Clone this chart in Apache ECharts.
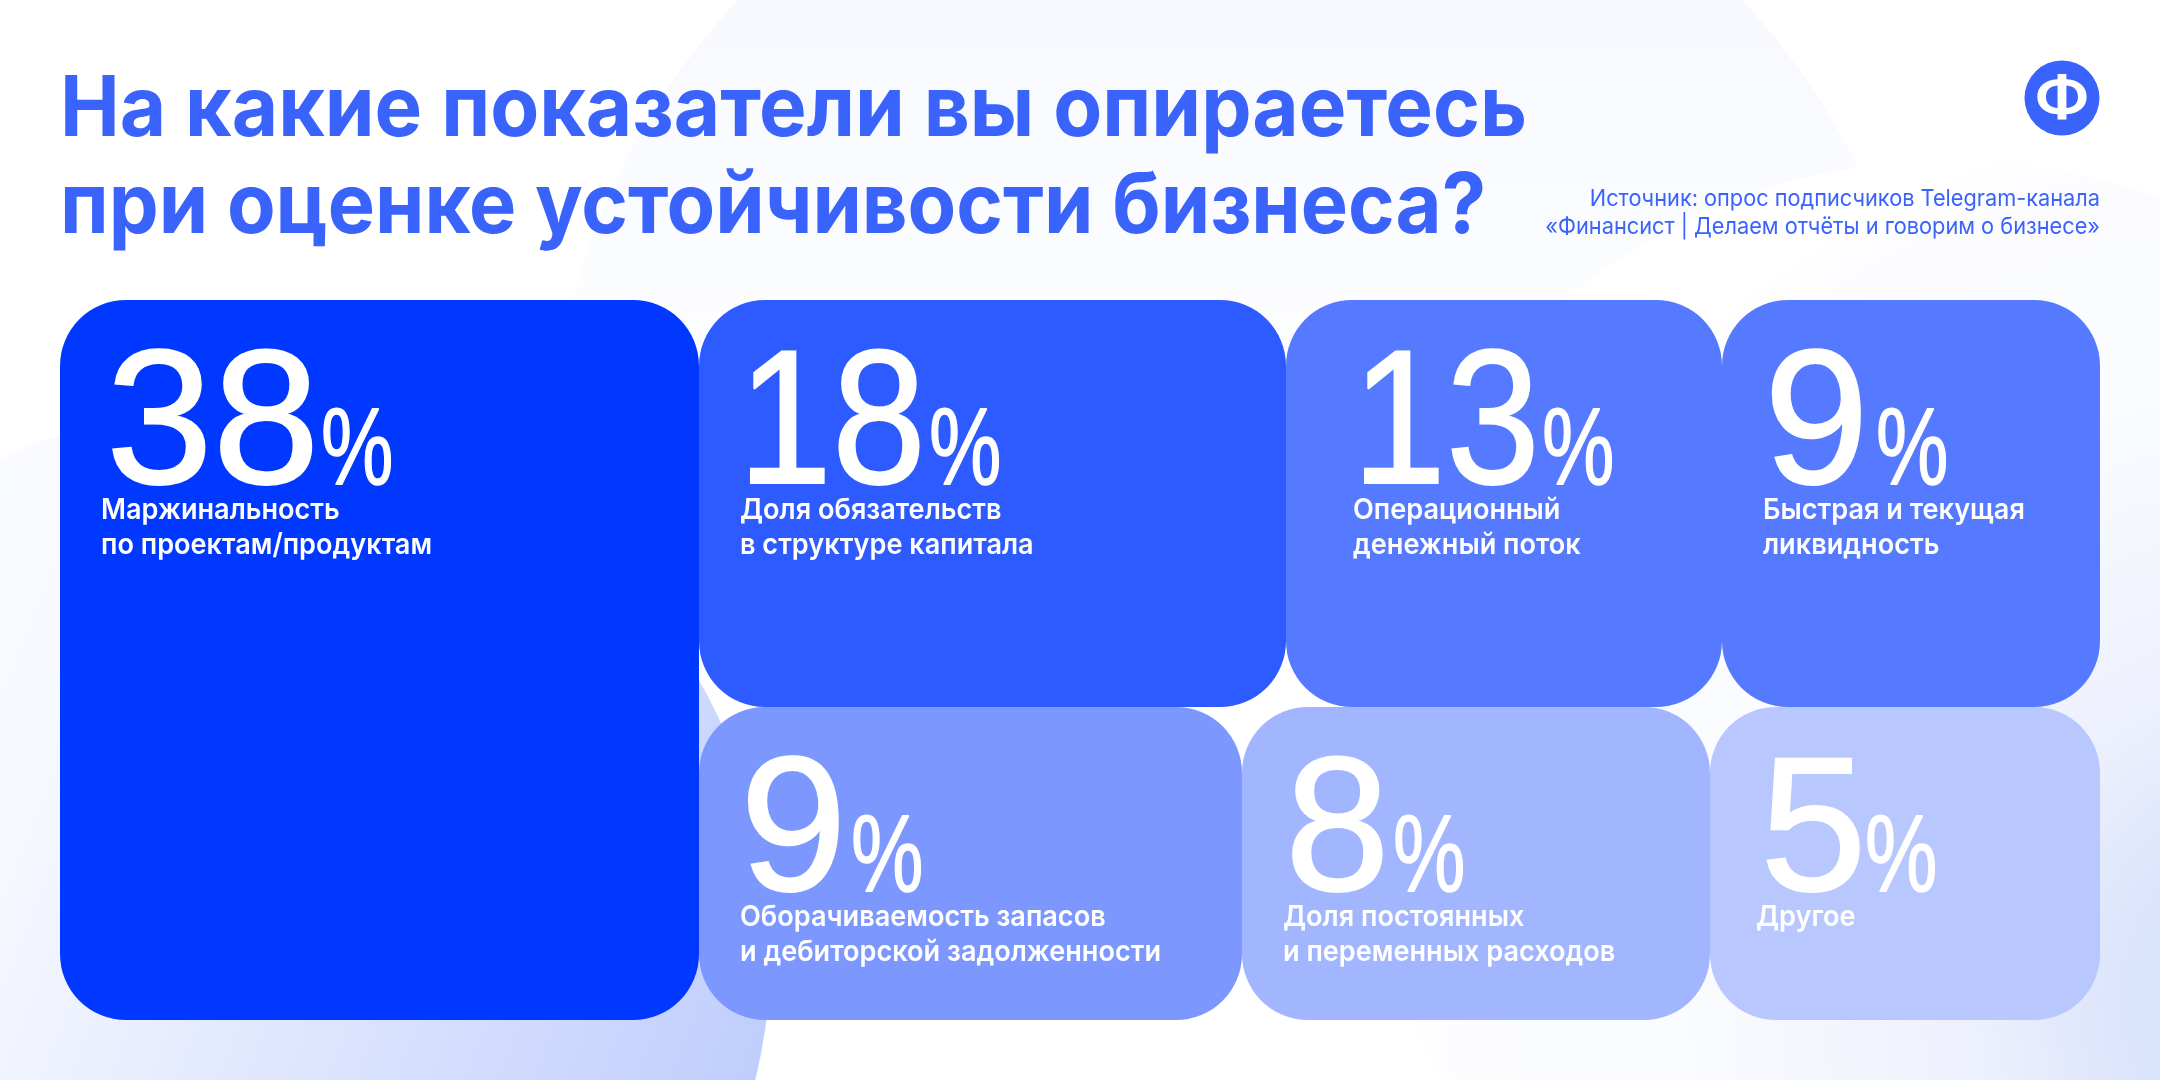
<!DOCTYPE html>
<html><head><meta charset="utf-8">
<style>html,body{margin:0;padding:0;background:#fff}#c{width:2160px;height:1080px}</style>
<script src="https://cdn.jsdelivr.net/npm/echarts@6/dist/echarts.min.js"></script>
</head><body><div id="c"></div>
<script>
// ---- chart data ----
const categories = [
  ['Маржинальность', 'по проектам/продуктам'],
  ['Доля обязательств', 'в структуре капитала'],
  ['Операционный', 'денежный поток'],
  ['Быстрая и текущая', 'ликвидность'],
  ['Оборачиваемость запасов', 'и дебиторской задолженности'],
  ['Доля постоянных', 'и переменных расходов'],
  ['Другое']
];
const shares = [38, 18, 13, 9, 9, 8, 5];
const titleLines = ['На какие показатели вы опираетесь', 'при оценке устойчивости бизнеса?'];
const sourceLines = ['Источник: опрос подписчиков Telegram-канала', '«Финансист | Делаем отчёты и говорим о бизнесе»'];

// ---- layout (axis units) ----
const cellX0 = [60, 699, 1286, 1722, 699, 1242, 1710];
const cellX1 = [699, 1286, 1722, 2100, 1242, 1710, 2100];
const cellY0 = [300, 300, 300, 300, 707, 707, 707];
const cellY1 = [1020, 707, 707, 707, 1020, 1020, 1020];
const numX = [106, 738, 1352, 1764, 740, 1285, 1760];
const numScale = [1, 0.88, 0.88, 0.98, 1, 0.98, 1];
const pctX = [321, 929, 1542, 1876, 851, 1393, 1865];
const labelX = [101, 740, 1353, 1763, 740, 1283, 1756];
const cellColors = ['#0038ff', '#2e5bff', '#557aff', '#557aff', '#7c98ff', '#a1b6fe', '#b8c8fe'];

const BLUE = '#3a63fb';
const NUM_FONT = 'Liberation Sans', LABEL_FONT = 'Inter';

const chart = echarts.init(document.getElementById('c'), null, {renderer: 'canvas'});

function renderCell(params, api) {
  const i = params.dataIndex;
  const p0 = api.coord([cellX0[i], cellY0[i]]);
  const p1 = api.coord([cellX1[i], cellY1[i]]);
  const top = p0[1];
  const value = String(api.value(2));
  const children = [{
    type: 'rect',
    shape: {x: p0[0], y: p0[1], width: p1[0] - p0[0], height: p1[1] - p0[1], r: 66},
    style: {fill: cellColors[i]}
  }, {
    type: 'text', x: api.coord([numX[i], 0])[0], y: top + 130, scaleX: numScale[i],
    style: {text: value, fill: '#fff', stroke: '#fff', lineWidth: 2, font: '400 192px "' + NUM_FONT + '"', textAlign: 'left', textVerticalAlign: 'middle'}
  }, {
    type: 'text', x: api.coord([pctX[i], 0])[0], y: top + 154, scaleX: 0.74,
    style: {text: '%', fill: '#fff', stroke: '#fff', lineWidth: 1.5, font: '400 110px "' + NUM_FONT + '"', textAlign: 'left', textVerticalAlign: 'middle'}
  }];
  categories[i].forEach(function (line, k) {
    children.push({
      type: 'text', x: api.coord([labelX[i], 0])[0], y: top + 210.5 + k * 34.5, scaleX: 0.935,
      style: {text: line, fill: '#fff', font: '600 29px "' + LABEL_FONT + '"', textAlign: 'left', textVerticalAlign: 'middle'}
    });
  });
  return {type: 'group', children: children};
}

function headText(text, x, y, font, align, sx) {
  return {type: 'text', z: 50, silent: true, x: x, y: y, scaleX: sx,
    style: {text: text, fill: BLUE, font: font, textAlign: align, textVerticalAlign: 'middle'}};
}

chart.setOption({
  animation: false,
  backgroundColor: '#ffffff',
  grid: {left: 0, right: 0, top: 0, bottom: 0},
  xAxis: {type: 'value', min: 0, max: 2160, show: false},
  yAxis: {type: 'value', min: 0, max: 1080, inverse: true, show: false},
  graphic: [
    {type: 'circle', z: -10, silent: true, shape: {cx: 1240, cy: 472, r: 689},
     style: {fill: new echarts.graphic.LinearGradient(0, 0, 0, 1, [{offset: 0, color: '#f3f6fe'}, {offset: 0.5, color: '#ffffff'}])}},
    {type: 'circle', z: -9, silent: true, shape: {cx: 1950, cy: 760, r: 600},
     style: {fill: new echarts.graphic.RadialGradient(2300, 1000, 900, [{offset: 0.18, color: '#dae3fc'}, {offset: 0.36, color: '#edf0fd'}, {offset: 0.7, color: '#fbfcff'}, {offset: 0.92, color: '#fcfcff'}, {offset: 1, color: '#ffffff'}], true)}},
    {type: 'circle', z: -8, silent: true, shape: {cx: 229, cy: 950, r: 542},
     style: {fill: new echarts.graphic.LinearGradient(0, 0.3, 1, 0.7, [{offset: 0, color: '#ffffff'}, {offset: 0.3, color: '#f6f8ff'}, {offset: 1, color: '#bccbfc'}])}},
    headText(titleLines[0], 60, 111, '700 84px "Inter"', 'left', 0.952),
    headText(titleLines[1], 60, 208, '700 84px "Inter"', 'left', 0.945),
    headText(sourceLines[0], 2100, 199, '400 23px "Inter"', 'right', 0.945),
    headText(sourceLines[1], 2100, 227, '400 23px "Inter"', 'right', 0.945),
    {type: 'circle', z: 50, silent: true, shape: {cx: 2062, cy: 98, r: 37.5}, style: {fill: BLUE}},
    {type: 'text', z: 51, silent: true, x: 2062, y: 100, scaleX: 1.2,
     style: {text: 'Ф', fill: '#fff', font: '600 56px "Inter"', textAlign: 'center', textVerticalAlign: 'middle'}}
  ],
  series: [{
    type: 'custom',
    coordinateSystem: 'cartesian2d',
    renderItem: renderCell,
    encode: {x: 0, y: 1},
    data: shares.map(function (v, i) { return [cellX0[i], cellY0[i], v]; })
  }]
});
</script></body></html>
